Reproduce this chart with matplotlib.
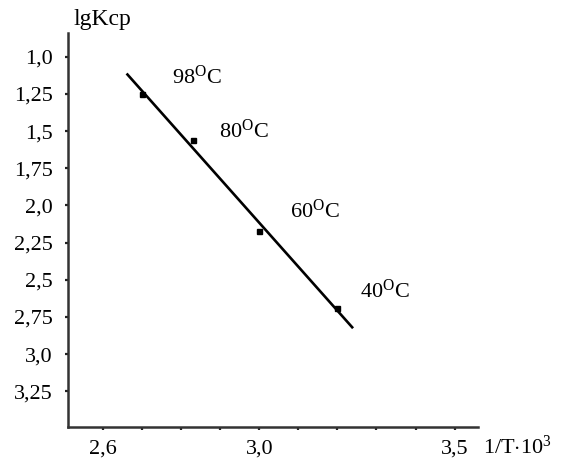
import numpy as np
import matplotlib
matplotlib.use("Agg")
import matplotlib.pyplot as plt

plt.rcParams["font.family"] = ["Liberation Serif", "DejaVu Serif"]
plt.rcParams["mathtext.fontset"] = "custom"
plt.rcParams["mathtext.rm"] = "Liberation Serif"
plt.rcParams["mathtext.it"] = "Liberation Serif:italic"

# Measured points: reciprocal temperature (x10^3) vs lgKcp
inv_T = [2.70, 2.83, 3.00, 3.20]
lg_k = [1.25, 1.56, 2.17, 2.69]
temp_labels = ["98", "80", "60", "40"]
label_x = [2.777, 2.897, 3.079, 3.259]
label_y = [1.14, 1.50, 2.04, 2.58]

# Range covered by the fitted straight line
fit_range = [2.66, 3.24]

x_ticks = [2.6, 2.7, 2.8, 2.9, 3.0, 3.1, 3.2, 3.3, 3.4, 3.5]
x_tick_labels = ["2,6", "", "", "", "3,0", "", "", "", "", "3,5"]
y_ticks = [1.0, 1.25, 1.5, 1.75, 2.0, 2.25, 2.5, 2.75, 3.0, 3.25]
y_tick_labels = ["1,0", "1,25", "1,5", "1,75", "2,0", "2,25", "2,5", "2,75", "3,0", "3,25"]

fig = plt.figure(figsize=(5.64, 4.66), dpi=100)
ax = fig.add_axes([0.1206, 0.0837, 0.7269, 0.8455])

slope, intercept = np.polyfit(inv_T, lg_k, 1)
xf = np.array(fit_range)
ax.plot(xf, slope * xf + intercept, color="black", lw=1.9, solid_capstyle="butt")
ax.plot(inv_T, lg_k, "s", color="black", ms=3.6)

for lx, ly, t in zip(label_x, label_y, temp_labels):
    ax.text(lx, ly, t + r"$^{\mathrm{O}}$C", fontsize=16, ha="left", va="center")

ax.set_xlim(2.51, 3.56)
ax.set_ylim(3.49, 0.84)
ax.set_xticks(x_ticks)
ax.set_xticklabels(x_tick_labels)
ax.set_yticks(y_ticks)
ax.set_yticklabels(y_tick_labels)
ax.tick_params(direction="out", length=2.5, width=1.6, color="#222222",
               labelsize=16)
ax.tick_params(axis="x", pad=6.5)
ax.tick_params(axis="y", pad=8.5)

for side in ("top", "right"):
    ax.spines[side].set_visible(False)
for side in ("left", "bottom"):
    ax.spines[side].set_linewidth(1.8)
    ax.spines[side].set_color("#333333")

fig.text(73 / 564, 1 - 20 / 466, "lgKcp", fontsize=17, ha="left", va="center")
fig.text(483 / 564, 1 - 447 / 466, r"1/T$\cdot$10$^{3}$", fontsize=16,
         ha="left", va="center")

fig.savefig("out.png", dpi=100)
